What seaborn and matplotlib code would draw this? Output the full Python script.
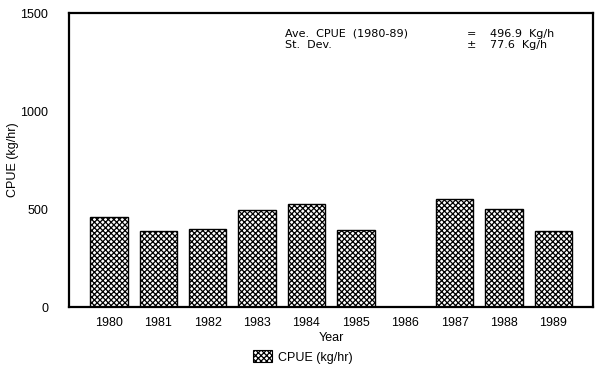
import numpy as np
import pandas as pd
import seaborn as sns
import matplotlib
matplotlib.use("Agg")
import matplotlib.pyplot as plt
from matplotlib.patches import Patch

years = ["1980", "1981", "1982", "1983", "1984", "1985", "1986", "1987", "1988", "1989"]
cpue = [459, 390, 397, 494, 525, 396, np.nan, 551, 499, 389]
yticks = [0, 500, 1000, 1500]
series_label = "CPUE (kg/hr)"

df = pd.DataFrame({"Year": years, "CPUE": cpue})

sns.set_theme(style="white")
plt.rcParams["font.family"] = ["Liberation Sans", "DejaVu Sans"]
plt.rcParams["text.color"] = "black"
plt.rcParams["axes.labelcolor"] = "black"
plt.rcParams["xtick.color"] = "black"
plt.rcParams["ytick.color"] = "black"
plt.rcParams["hatch.linewidth"] = 0.9
plt.rcParams["hatch.color"] = "black"

fig = plt.figure(figsize=(6, 3.75), dpi=100)
ax = fig.add_axes([0.115, 0.181, 0.873, 0.784])

sns.barplot(data=df, x="Year", y="CPUE", order=years, color="white",
            edgecolor="black", linewidth=1.0, width=0.76, ax=ax)
for p in ax.patches:
    p.set_hatch("xxxxxx")
    p.set_facecolor("white")

ax.set_xlim(-0.81, 9.8)
ax.set_ylim(0, 1500)
ax.set_yticks(yticks)
ax.set_yticklabels([str(t) for t in yticks], fontsize=9)
ax.tick_params(axis="y", direction="in", length=4, width=1, color="black",
               labelcolor="black", pad=15)
ax.tick_params(axis="x", length=0, pad=7, labelsize=9, labelcolor="black")
for s in ax.spines.values():
    s.set_color("black")
    s.set_linewidth(1.6)
ax.set_xlabel("Year", fontsize=9, color="black")
ax.xaxis.set_label_coords(0.5, -0.085)
ax.set_ylabel(series_label, fontsize=9, color="black")
ax.yaxis.set_label_coords(-0.095, 0.5)

hw = dict(transform=ax.transAxes, fontsize=8, family=["DejaVu Sans"], va="center",
          color="black")
ax.text(0.412, 0.93, "Ave.  CPUE  (1980-89)", **hw)
ax.text(0.76, 0.93, "=", **hw)
ax.text(0.803, 0.93, "496.9  Kg/h", **hw)
ax.text(0.412, 0.893, "St.  Dev.", **hw)
ax.text(0.76, 0.893, "\u00b1", **hw)
ax.text(0.803, 0.893, "77.6  Kg/h", **hw)

handle = Patch(facecolor="white", edgecolor="black", hatch="xxxxxx", linewidth=0.8)
leg = fig.legend([handle], [series_label], loc="center", bbox_to_anchor=(0.505, 0.048),
                 frameon=False, fontsize=9, handlelength=1.5, handleheight=1.1,
                 handletextpad=0.5)
for t in leg.get_texts():
    t.set_color("black")

fig.savefig("out.png", dpi=100)
